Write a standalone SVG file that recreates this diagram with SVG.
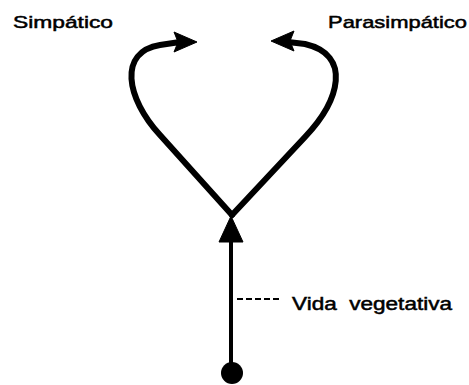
<svg xmlns="http://www.w3.org/2000/svg" width="469" height="385" viewBox="0 0 469 385">
<style>
.lbl{font-family:"Liberation Sans","DejaVu Sans",sans-serif;font-size:17px;fill:#000;stroke:#000;stroke-width:0.5}
.br{fill:none;stroke:#000;stroke-width:6;stroke-linecap:round;stroke-linejoin:round}
.head{fill:#000;stroke:#000;stroke-width:1}
</style>
<rect width="469" height="385" fill="#fff"/>
<g id="connectors">
  <path class="br" d="M232,215 L160,135 C126,98 118,52 160,45 L180,42"/>
  <polygon class="head" points="197,42 174,32 178,42 174,52"/>
  <path class="br" d="M232,215 L305,137 C340,100 352,55 305,44 L288,42"/>
  <polygon class="head" points="271,41 294,31 290,41 294,51"/>
  <line x1="231" y1="240" x2="231" y2="373" stroke="#000" stroke-width="4"/>
  <polygon class="head" points="231,216 219,242 243,242"/>
  <line x1="237" y1="299" x2="282" y2="299" stroke="#000" stroke-width="2" stroke-dasharray="6,3"/>
</g>
<g id="node-origin">
  <circle cx="232" cy="373" r="11" fill="#000"/>
</g>
<g id="node-simpatico">
  <text class="lbl" x="13" y="28" textLength="100" lengthAdjust="spacingAndGlyphs">Simpático</text>
</g>
<g id="node-parasimpatico">
  <text class="lbl" x="328" y="28" textLength="139" lengthAdjust="spacingAndGlyphs">Parasimpático</text>
</g>
<g id="node-vida">
  <text class="lbl" x="292" y="310" style="font-size:18px" textLength="160" lengthAdjust="spacingAndGlyphs" xml:space="preserve">Vida  vegetativa</text>
</g>
</svg>
